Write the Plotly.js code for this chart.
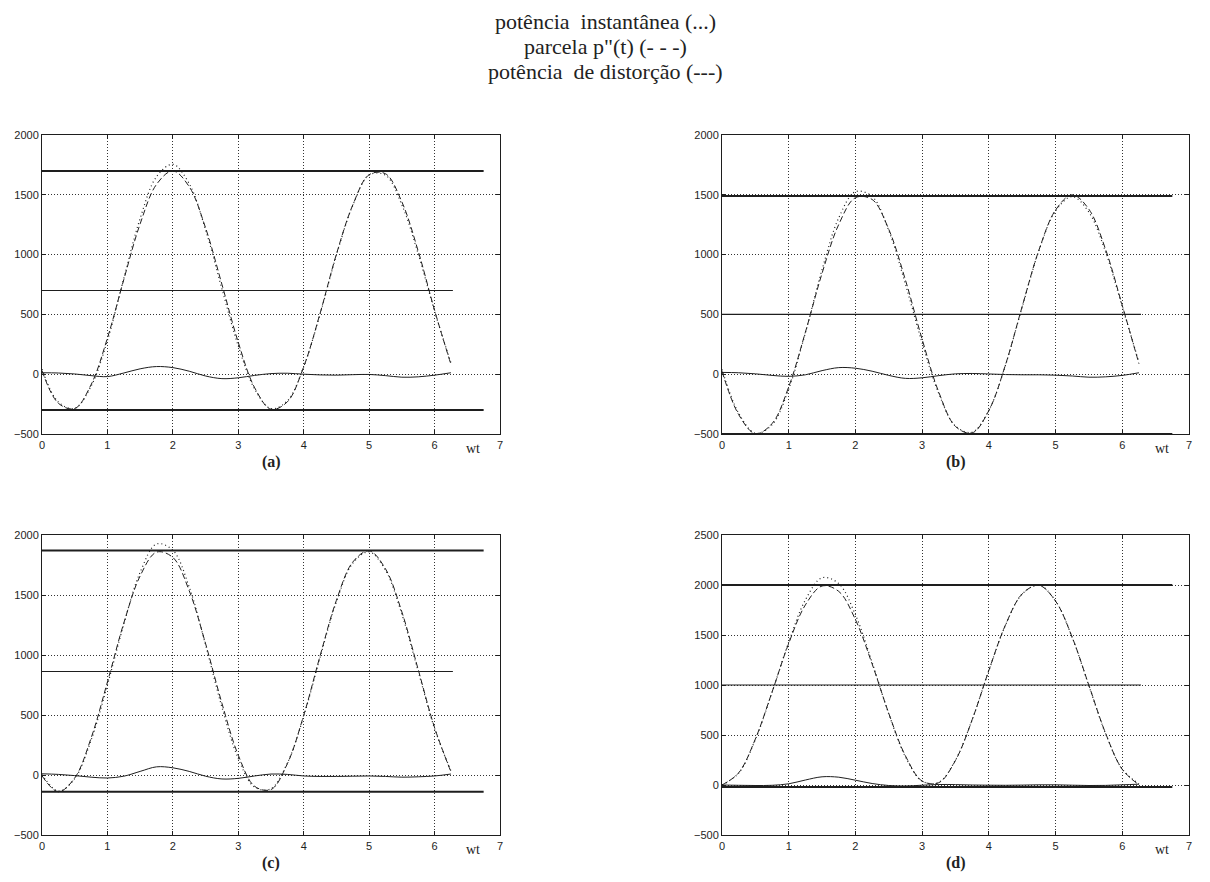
<!DOCTYPE html>
<html>
<head>
<meta charset="utf-8">
<script src="https://cdn.plot.ly/plotly-3.0.1.min.js"></script>
<style>
  html, body { margin: 0; padding: 0; background: #ffffff; }
  #chart { width: 1210px; height: 882px; }
</style>
</head>
<body>
<div id="chart"></div>
<script>
// Sample angles wt (rad)
const wt = [0, 0.25, 0.5, 0.75, 1.0, 1.25, 1.5, 1.75, 2.0, 2.25, 2.5, 2.75, 3.0,
            3.25, 3.5, 3.75, 4.0, 4.25, 4.5, 4.75, 5.0, 5.25, 5.5, 5.75, 6.0, 6.25];

// (a) instantaneous power, p''(t) and distortion power
const instA = [42, -233, -285, -100, 282, 801, 1302, 1651, 1755, 1593, 1208, 714, 236,
               -123, -288, -223, 62, 502, 996, 1411, 1666, 1664, 1416, 1007, 527, 94];
const pppA  = [30, -243, -287, -88, 302, 791, 1257, 1587, 1700, 1568, 1223, 751, 266,
               -113, -293, -231, 62, 508, 1004, 1415, 1668, 1676, 1441, 1029, 535, 82];
const distA = [12, 10, 2, -12, -20, 10, 45, 64, 55, 25, -15, -37, -30,
               -10, 5, 8, 0, -6, -8, -4, -2, -12, -25, -22, -8, 12];
const levelsA = [1700, 700, -300];

// (b)
const instB = [40, -326, -494, -423, -124, 346, 874, 1307, 1526, 1486, 1201, 752, 262,
               -163, -434, -485, -302, 77, 562, 1032, 1365, 1485, 1354, 1021, 564, 99];
const pppB  = [25, -338, -497, -413, -106, 351, 844, 1252, 1476, 1461, 1211, 787, 292,
               -151, -437, -491, -304, 80, 567, 1037, 1373, 1500, 1379, 1043, 574, 87];
const distB = [15, 12, 3, -10, -18, -5, 30, 55, 50, 25, -10, -35, -30,
               -12, 3, 6, 2, -3, -5, -5, -8, -15, -25, -22, -10, 12];
const levelsB = [1490, 500, -500];

// (c)
const instC = [3, -135, -30, 289, 750, 1256, 1689, 1925, 1873, 1566, 1085, 565, 137,
               -102, -113, 99, 489, 980, 1444, 1765, 1860, 1706, 1341, 864, 387, 35];
const pppC  = [-7, -140, -25, 307, 775, 1266, 1659, 1857, 1813, 1536, 1095, 598, 165,
               -94, -121, 94, 497, 992, 1456, 1775, 1868, 1718, 1359, 879, 395, 27];
const distC = [10, 5, -5, -18, -25, -10, 30, 68, 60, 30, -10, -33, -28,
               -8, 8, 5, -8, -12, -12, -10, -8, -12, -18, -15, -8, 8];
const levelsC = [1870, 862, -140];

// (d)
const instD = [0, 119, 455, 926, 1428, 1851, 2072, 2014, 1702, 1226, 711, 281, 38,
               28, 250, 653, 1144, 1599, 1910, 1999, 1841, 1474, 991, 513, 158, 10];
const pppD  = [0, 122, 460, 929, 1416, 1801, 1990, 1936, 1654, 1211, 716, 291, 40,
               23, 246, 653, 1146, 1602, 1911, 1997, 1839, 1476, 996, 517, 156, 2];
const distD = [0, -3, -5, -3, 12, 50, 82, 78, 48, 15, -5, -10, -2,
               5, 4, 0, -2, -3, -1, 2, 2, -2, -5, -4, 2, 8];
const levelsD = [2000, 1000, -20];

const titleLines = ['potência\u00a0 instantânea (...)', 'parcela p"(t) (- - -)', 'potência\u00a0 de distorção (---)'];
const panelLabels = ['(a)', '(b)', '(c)', '(d)'];
const xTicks = [0, 1, 2, 3, 4, 5, 6, 7];
const yRanges = [[-500, 2000], [-500, 2000], [-500, 2000], [-500, 2500]];

const ink = '#1e1e1e';
const serif = '"Liberation Serif", "Times New Roman", serif';
const panels = [
  { inst: instA, ppp: pppA, dist: distA, lev: levelsA },
  { inst: instB, ppp: pppB, dist: distB, lev: levelsB },
  { inst: instC, ppp: pppC, dist: distC, lev: levelsC },
  { inst: instD, ppp: pppD, dist: distD, lev: levelsD }
];

const traces = [];
panels.forEach((p, i) => {
  const xa = i === 0 ? 'x' : 'x' + (i + 1);
  const ya = i === 0 ? 'y' : 'y' + (i + 1);
  const base = { xaxis: xa, yaxis: ya, mode: 'lines', hoverinfo: 'skip', showlegend: false };
  // extreme levels of p''(t): heavy lines
  [p.lev[0], p.lev[2]].forEach(v => {
    traces.push(Object.assign({}, base, {
      x: [0, 6.75], y: [v, v], line: { color: ink, width: 2 }
    }));
  });
  // mean level
  traces.push(Object.assign({}, base, {
    x: [0, 6.28], y: [p.lev[1], p.lev[1]], line: { color: ink, width: 1.1 }
  }));
  // distortion power (solid)
  traces.push(Object.assign({}, base, {
    x: wt, y: p.dist, line: { color: ink, width: 1, shape: 'spline', smoothing: 1 }
  }));
  // p''(t) (dashed)
  traces.push(Object.assign({}, base, {
    x: wt, y: p.ppp, line: { color: ink, width: 1, dash: '6px,3px', shape: 'spline', smoothing: 1 }
  }));
  // instantaneous power (dotted)
  traces.push(Object.assign({}, base, {
    x: wt, y: p.inst, line: { color: ink, width: 1.2, dash: '1px,3px', shape: 'spline', smoothing: 1 }
  }));
});

const W = 1210, H = 882;
const colX = [[42 / W, 500 / W], [722 / W, 1189 / W]];
const rowY = [[(H - 434) / H, (H - 135) / H], [(H - 835) / H, (H - 535) / H]];

function axisCommon() {
  return {
    showline: true, mirror: 'ticks', linecolor: ink, linewidth: 1,
    ticks: 'inside', ticklen: 4, tickcolor: ink, tickwidth: 1,
    showgrid: true, gridcolor: '#333333', griddash: '1px,2px', gridwidth: 1,
    zeroline: false, fixedrange: true,
    tickfont: { family: 'Liberation Sans, Arial, sans-serif', size: 11, color: ink }
  };
}

const layout = {
  width: W, height: H,
  margin: { l: 0, r: 0, t: 0, b: 0 },
  paper_bgcolor: '#ffffff', plot_bgcolor: '#ffffff',
  annotations: []
};

// three-line heading
const titleRows = [22, 47, 72];
titleLines.forEach((t, k) => {
  layout.annotations.push({
    text: t, xref: 'paper', yref: 'paper', x: 0.5, y: 1 - titleRows[k] / H,
    xanchor: 'center', yanchor: 'middle', showarrow: false,
    font: { family: serif, size: 22, color: '#222' }
  });
});

for (let i = 0; i < 4; i++) {
  const suffix = i === 0 ? '' : String(i + 1);
  const col = i % 2, row = Math.floor(i / 2);
  layout['xaxis' + suffix] = Object.assign(axisCommon(), {
    domain: colX[col], anchor: 'y' + suffix, range: [0, 7],
    tickmode: 'array', tickvals: xTicks, ticktext: xTicks.map(String),
    ticklabelstandoff: 1
  });
  layout['yaxis' + suffix] = Object.assign(axisCommon(), {
    domain: rowY[row], anchor: 'x' + suffix, range: yRanges[i],
    tick0: 0, dtick: 500
  });
  const xr = 'x' + suffix, yr = 'y' + suffix + ' domain';
  layout.annotations.push({
    text: 'wt', xref: xr, yref: yr, x: 6.59, y: 0, yanchor: 'middle', xanchor: 'center',
    yshift: -14, showarrow: false,
    font: { family: serif, size: 14, color: '#222' }
  });
  layout.annotations.push({
    text: '<b>' + panelLabels[i] + '</b>', xref: xr, yref: yr, x: 3.5, y: 0,
    yanchor: 'middle', xanchor: 'center', yshift: -28, showarrow: false,
    font: { family: serif, size: 16, color: '#222' }
  });
}

Plotly.newPlot('chart', traces, layout, { displayModeBar: false, staticPlot: true });
</script>
</body>
</html>
